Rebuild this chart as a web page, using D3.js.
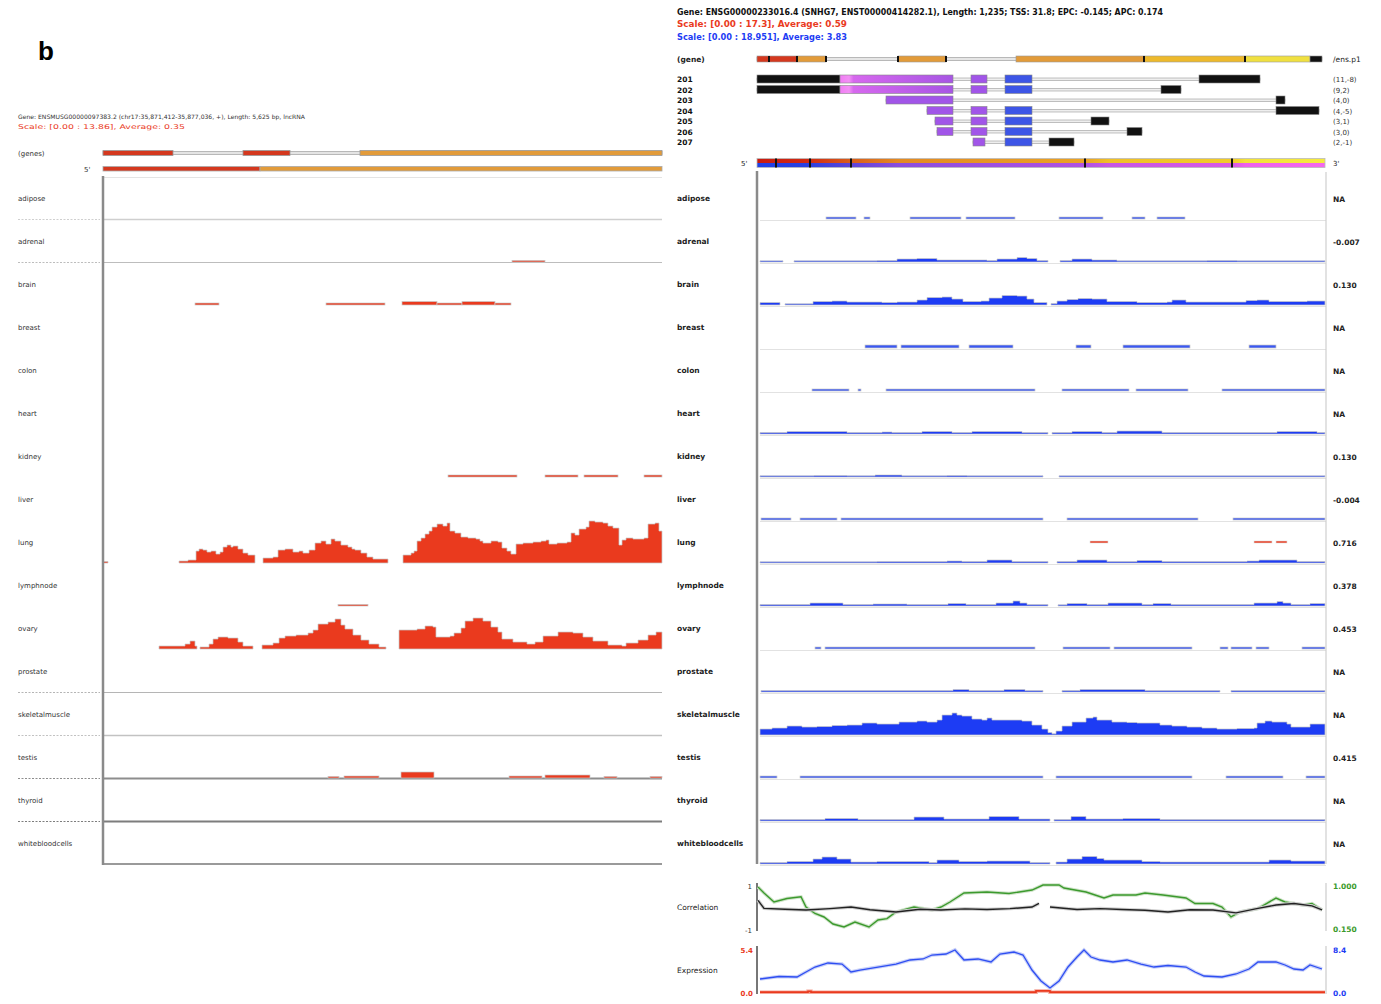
<!DOCTYPE html>
<html><head><meta charset="utf-8">
<script src="https://cdn.jsdelivr.net/npm/d3@7"></script>
<style>
body{margin:0;background:#fff;}
svg text{font-family:"DejaVu Sans",sans-serif;}
</style></head><body>
<svg id="chart" width="1381" height="1004"></svg>
<script>
// ---------- tracks ----------
const tissues = ["adipose","adrenal","brain","breast","colon","heart","kidney","liver","lung","lymphnode","ovary","prostate","skeletalmuscle","testis","thyroid","whitebloodcells"];
const tissueLabels = ["adipose","adrenal","brain","breast","colon","heart","kidney","liver","lung","lymphnode","ovary","prostate","skeletalmuscle","testis","thyroid","whitebloodcells"];

// ---------- left locus: bars [start, end, value], areas = segments of [pos, value] ----------
const L_adrenalBars = [[4090,4420,0.15]];
const L_brainBars = [[920,1160,0.2],[2230,2820,0.2],[2990,3340,0.35],[3340,3590,0.2],[3590,3920,0.35],[3920,4080,0.2]];
const L_kidneyBars = [[3450,4140,0.2],[4420,4750,0.2],[4810,5150,0.2],[5410,5590,0.2]];
const L_lymphBars = [[2350,2650,0.04]];
const L_testisBars = [[2250,2360,0.1],[2410,2760,0.2],[2980,3310,0.6],[4060,4390,0.2],[4420,4870,0.3],[5010,5140,0.1],[5470,5590,0.1]];
const L_lungAreas = [
  [[0,0.15],[50,0.15]],
  [[760,0.2],[850,0.3],[930,1.2],[960,1.4],[1000,1.3],[1040,1.1],[1080,1.2],[1130,0.9],[1170,1.1],[1200,1.6],[1240,1.8],[1280,1.6],[1300,1.7],[1350,1.4],[1400,1.0],[1450,0.8],[1520,0.8]],
  [[1600,0.5],[1700,0.6],[1750,1.3],[1820,1.4],[1900,1.1],[1960,1.2],[2000,1.0],[2060,1.3],[2120,2.0],[2180,2.2],[2230,1.9],[2280,2.4],[2320,2.2],[2380,1.8],[2450,1.6],[2490,1.4],[2520,1.3],[2580,1.0],[2640,0.6],[2700,0.4],[2850,0.4]],
  [[3000,0.8],[3080,1.0],[3110,1.2],[3140,2.2],[3180,2.5],[3220,2.9],[3260,3.2],[3290,3.6],[3340,3.9],[3400,3.7],[3440,4.0],[3470,3.2],[3520,3.0],[3580,2.6],[3650,2.5],[3730,2.4],[3770,2.2],[3800,2.0],[3880,2.2],[3950,2.1],[3990,1.5],[4040,1.2],[4080,0.9],[4130,1.9],[4200,2.0],[4300,2.1],[4380,2.2],[4430,2.3],[4460,1.9],[4540,2.0],[4640,2.1],[4680,3.0],[4720,2.8],[4760,3.4],[4830,3.6],[4860,4.2],[4920,4.1],[5000,4.0],[5050,3.7],[5100,3.5],[5160,1.8],[5190,2.3],[5230,2.5],[5300,2.4],[5410,2.5],[5450,3.9],[5520,4.0],[5560,3.2],[5590,3.2]]
];
const L_ovaryAreas = [
  [[560,0.3],[820,0.5],[870,0.8],[920,0.3],[940,0.3]],
  [[970,0.2],[1060,0.5],[1100,1.0],[1150,1.2],[1250,1.1],[1350,0.7],[1400,0.3],[1500,0.3]],
  [[1590,0.4],[1700,0.6],[1760,1.1],[1820,1.3],[1930,1.4],[2050,1.6],[2100,1.9],[2150,2.5],[2250,2.7],[2320,3.0],[2380,2.4],[2420,2.0],[2500,1.4],[2580,0.9],[2660,0.5],[2760,0.2],[2830,0.2]],
  [[2960,1.9],[3140,2.0],[3220,2.3],[3300,2.2],[3330,1.2],[3470,1.3],[3510,1.6],[3580,2.1],[3620,2.8],[3700,3.1],[3800,2.8],[3880,2.2],[3950,1.7],[3990,1.0],[4100,0.7],[4240,0.5],[4320,0.7],[4400,1.3],[4550,1.7],[4700,1.6],[4800,1.2],[4900,0.8],[5050,0.4],[5190,0.3],[5230,0.6],[5350,0.9],[5450,1.4],[5530,1.7],[5590,1.7]]
];

// ---------- right locus ----------
const R_adiposeBars = [[690,990,0.2],[1070,1130,0.2],[1530,2040,0.2],[2090,2580,0.2],[3020,3460,0.2],[3750,3880,0.2],[4000,4280,0.2]];
const R_adrenalAreas = [
  [[30,0.1],[260,0.1]],
  [[370,0.1],[1200,0.15],[1400,0.3],[1600,0.35],[1800,0.2],[2300,0.15],[2400,0.3],[2600,0.45],[2700,0.35],[2800,0.15],[2910,0.15]],
  [[3030,0.15],[3150,0.3],[3350,0.2],[3600,0.1],[4500,0.15],[4800,0.1],[5680,0.1]]
];
const R_brainAreas = [
  [[30,0.25],[230,0.25]],
  [[280,0.1],[560,0.35],[750,0.4],[900,0.3],[1250,0.25],[1400,0.3],[1600,0.5],[1700,0.75],[1850,0.8],[1950,0.6],[2060,0.35],[2240,0.4],[2320,0.7],[2450,0.95],[2600,0.9],[2700,0.6],[2770,0.25],[2900,0.25]],
  [[2940,0.15],[3000,0.4],[3100,0.55],[3210,0.65],[3350,0.6],[3500,0.35],[3800,0.25],[4100,0.3],[4150,0.5],[4290,0.3],[4780,0.3],[4890,0.45],[5000,0.5],[5120,0.35],[5500,0.4],[5680,0.4]]
];
const R_breastBars = [[1080,1400,0.3],[1440,2020,0.3],[2120,2560,0.3],[3190,3340,0.3],[3660,4330,0.3],[4920,5190,0.3]];
const R_colonBars = [[550,920,0.2],[1010,1040,0.2],[1290,2780,0.2],[3050,3720,0.2],[3790,4310,0.2],[4650,5680,0.2]];
const R_heartAreas = [
  [[30,0.15],[300,0.25],[900,0.15],[1250,0.2],[1350,0.15],[1650,0.25],[1950,0.15],[2150,0.25],[2650,0.15],[2910,0.15]],
  [[2950,0.15],[3150,0.25],[3450,0.15],[3600,0.3],[4050,0.15],[5200,0.25],[5600,0.15],[5680,0.15]]
];
const R_kidneyAreas = [
  [[30,0.1],[570,0.15],[900,0.1],[1180,0.2],[1450,0.1],[1900,0.15],[2100,0.1],[2860,0.1]],
  [[3020,0.1],[5680,0.1]]
];
const R_liverBars = [[40,340,0.2],[430,800,0.2],[840,2860,0.2],[3100,4410,0.2],[4760,5680,0.2]];
const R_lungAreas = [
  [[30,0.1],[1200,0.15],[1900,0.2],[2050,0.15],[2300,0.3],[2550,0.15],[2910,0.1]],
  [[3000,0.15],[3200,0.3],[3500,0.15],[3800,0.25],[4050,0.15],[4900,0.2],[5020,0.3],[5400,0.15],[5680,0.15]]
];
const R_lungOtherMarks = [[3330,3510,2.1],[4970,5150,2.1],[5190,5300,2.1]];
const R_lymphAreas = [
  [[30,0.15],[530,0.3],[860,0.15],[1160,0.2],[1500,0.15],[1910,0.25],[2090,0.15],[2390,0.3],[2560,0.5],[2630,0.3],[2700,0.15],[2910,0.15]],
  [[3010,0.1],[3100,0.25],[3300,0.15],[3510,0.3],[3850,0.15],[3960,0.25],[4140,0.15],[4970,0.3],[5200,0.45],[5260,0.3],[5340,0.15],[5530,0.25],[5680,0.25]]
];
const R_ovaryBars = [[580,640,0.2],[680,2780,0.2],[3060,3530,0.2],[3570,4350,0.2],[4630,4710,0.2],[4740,4950,0.2],[4990,5120,0.2],[5450,5680,0.2]];
const R_prostateAreas = [
  [[40,0.15],[1960,0.25],[2120,0.15],[2470,0.25],[2680,0.15],[2860,0.15]],
  [[3050,0.15],[3230,0.25],[3880,0.15],[4630,0.15]],
  [[4740,0.15],[5680,0.15]]
];
const R_skeletalAreas = [
  [[30,0.6],[150,0.7],[300,0.9],[450,0.8],[600,0.85],[750,0.95],[900,1.0],[1050,1.2],[1200,1.1],[1420,1.3],[1600,1.4],[1700,1.3],[1800,1.5],[1850,2.0],[1950,2.2],[2000,2.0],[2050,1.9],[2150,1.6],[2250,1.5],[2300,1.7],[2350,1.5],[2500,1.5],[2650,1.4],[2750,1.0],[2850,0.6],[2910,0.25],[2950,0.05],[2990,0.4],[3050,0.9],[3150,1.3],[3290,1.7],[3360,1.8],[3400,1.5],[3550,1.3],[3700,1.25],[3800,1.2],[4030,1.0],[4150,0.9],[4300,0.8],[4450,0.7],[4600,0.6],[4800,0.65],[4970,0.7],[5000,1.2],[5080,1.4],[5150,1.3],[5300,1.1],[5340,0.8],[5530,1.1],[5680,1.1]]
];
const R_testisBars = [[30,200,0.2],[430,2860,0.2],[2990,4350,0.2],[4690,5260,0.2],[5490,5680,0.2]];
const R_thyroidAreas = [
  [[30,0.15],[680,0.25],[1010,0.15],[1570,0.4],[1870,0.2],[2320,0.45],[2620,0.2],[2930,0.2]],
  [[2970,0.15],[3140,0.45],[3290,0.2],[3660,0.25],[4030,0.15],[5680,0.15]]
];
const R_wbcAreas = [
  [[30,0.15],[300,0.25],[560,0.5],[650,0.7],[800,0.5],[940,0.2],[1200,0.25],[1720,0.15],[1800,0.4],[2020,0.25],[2300,0.3],[2730,0.15],[2930,0.1]],
  [[2990,0.2],[3100,0.5],[3250,0.75],[3400,0.55],[3470,0.4],[3850,0.25],[4030,0.2],[5120,0.4],[5340,0.3],[5680,0.3]]
];
const R_values = ["NA","-0.007","0.130","NA","NA","NA","0.130","-0.004","0.716","0.378","0.453","NA","NA","0.415","NA","NA"];

// ---------- gene models ----------
const L_geneExons = [[0,700,"utr"],[1400,1870,"utr"],[2570,5590,"cds"]];
const L_geneSpan = [0,5590];
const L_strandBar = [[0,1570,"utr"],[1570,5590,"cds"]];
const R_geneExons = [[0,400,"utr"],[400,690,"cds"],[1410,1890,"cds"],[2590,3870,"cds"],[3870,4880,"mid"],[4880,5530,"end"],[5530,5650,"stop"]];
const R_geneTicks = [120,400,690,1410,1890,3870,4880];
const R_geneSpan = [0,5650];
const R_transcripts = [
  {id:"201", tag:"(11,-8)", exons:[[0,830,"stop"],[830,1960,"alt"],[2140,2300,"core"],[2480,2750,"core2"],[4420,5030,"stop"]]},
  {id:"202", tag:"(9,2)", exons:[[0,830,"stop"],[830,1960,"alt"],[2140,2300,"core"],[2480,2750,"core2"],[4040,4240,"stop"]]},
  {id:"203", tag:"(4,0)", exons:[[1290,1960,"core"],[5190,5280,"stop"]]},
  {id:"204", tag:"(4,-5)", exons:[[1700,1960,"core"],[2140,2300,"core"],[2480,2750,"core2"],[5190,5620,"stop"]]},
  {id:"205", tag:"(3,1)", exons:[[1780,1960,"core"],[2140,2300,"core"],[2480,2750,"core2"],[3340,3520,"stop"]]},
  {id:"206", tag:"(3,0)", exons:[[1800,1960,"core"],[2140,2300,"core"],[2480,2750,"core2"],[3700,3850,"stop"]]},
  {id:"207", tag:"(2,-1)", exons:[[2160,2280,"core"],[2480,2750,"core2"],[2920,3170,"stop"]]}
];
const R_strandTicks = [190,530,940,3280,4750];

// ---------- correlation / expression profiles ----------
const corrGreen = [[10,0.962],[70,0.849],[170,0.679],[300,0.745],[440,0.777],[490,0.584],[580,0.462],[670,0.396],[760,0.263],[870,0.207],[980,0.301],[1120,0.207],[1210,0.339],[1300,0.365],[1390,0.49],[1570,0.584],[1750,0.528],[1840,0.584],[1930,0.679],[2070,0.849],[2300,0.868],[2520,0.839],[2750,0.905],[2860,1.0],[3020,1.0],[3070,0.943],[3290,0.868],[3470,0.754],[3560,0.811],[3790,0.811],[3880,0.849],[4060,0.811],[4290,0.754],[4380,0.65],[4560,0.65],[4650,0.584],[4740,0.396],[4830,0.49],[5010,0.556],[5190,0.754],[5280,0.679],[5370,0.65],[5460,0.622],[5550,0.65],[5650,0.528]];
const corrBlack = [[10,0.32],[70,-0.04],[280,-0.08],[490,-0.11],[730,-0.05],[940,0.02],[1130,-0.1],[1390,-0.2],[1630,-0.08],[1840,-0.11],[2080,-0.06],[2300,-0.09],[2530,-0.05],[2750,0.02],[2820,0.18],[2850,null],[2930,0.02],[3200,-0.09],[3430,-0.05],[3650,-0.09],[3880,-0.12],[4110,-0.2],[4330,-0.1],[4560,-0.11],[4790,-0.24],[5010,-0.04],[5190,0.11],[5370,0.18],[5550,0.07],[5650,-0.11]];
const exprBlue = [[30,2.61],[220,3.08],[400,2.99],[490,3.92],[580,4.85],[710,5.6],[850,5.41],[940,3.92],[1030,4.29],[1210,4.85],[1390,5.41],[1530,6.16],[1660,6.35],[1750,7.09],[1890,7.28],[1980,8.03],[2070,6.16],[2210,6.35],[2340,5.79],[2430,7.28],[2570,7.65],[2660,7.09],[2750,4.29],[2840,2.24],[2930,0.93],[3020,2.24],[3110,4.85],[3200,6.72],[3270,8.03],[3340,6.72],[3430,6.16],[3560,5.79],[3700,6.16],[3840,5.41],[3970,4.85],[4110,5.13],[4290,4.85],[4380,3.92],[4470,3.17],[4650,2.99],[4790,3.55],[4920,4.48],[5010,5.79],[5190,5.79],[5280,5.23],[5370,4.48],[5460,4.29],[5530,5.23],[5650,4.48]];
const exprRed = [[30,0.1],[510,0.2],[540,0.1],[2790,0.25],[2930,0.1],[5680,0.1]];
const corrTicksL = ["1","-1"], corrTicksR = ["1.000","0.150"];
const exprTicksL = ["5.4","0.0"], exprTicksR = ["8.4","0.0"];

// ---------- build ----------
const svg = d3.select("#chart");
const defs = svg.append("defs");
function gradient(id, stops){
  const g = defs.append("linearGradient").attr("id", id).attr("x1","0%").attr("x2","100%").attr("y1","0%").attr("y2","0%");
  stops.forEach(([o,c]) => g.append("stop").attr("offset", o).attr("stop-color", c));
}
gradient("warm", [["0%","#c81a10"],["9%","#d22a12"],["16%","#d85a1a"],["25%","#e38a22"],["58%","#eaa324"],["62%","#efc028"],["84%","#f0cc2a"],["86%","#f2e23a"],["100%","#f4ea40"]]);
gradient("cool", [["0%","#1f3fe6"],["9%","#2a40e0"],["16%","#5a44d8"],["25%","#8a4ede"],["58%","#b052e2"],["62%","#c656e4"],["84%","#d85ae6"],["86%","#ee60ec"],["100%","#f468ee"]]);
gradient("altex", [["0%","#f07cf4"],["8%","#f290f4"],["12%","#d668ee"],["100%","#a756e4"]]);

const redC = "#ea3a1e", blueC = "#1d3cf4";
const exonColor = d3.scaleOrdinal()
  .domain(["utr","cds","mid","end","stop","alt","core","core2"])
  .range(["#d4381e","#e29b3a","#edb92c","#f0e040","#111","url(#altex)","#a155e8","#3d55e6"]);

const xL = d3.scaleLinear().domain([0,5590]).range([103,662]);
const xR = d3.scaleLinear().domain([0,5680]).range([757,1325]);
const base = d3.scaleLinear().domain([0,15]).range([219,864]);
const hL = d3.scaleLinear().domain([0,4.3]).range([0,43]);
const hR = d3.scaleLinear().domain([0,4.3]).range([0,43]);

// panel letter
svg.append("text").attr("x",38).attr("y",60).text("b")
  .style("font-family","'Liberation Sans',Arial,sans-serif").style("font-weight","bold").style("font-size","26px");

// headers
function header(x, y, w, txt, color, size, weight){
  svg.append("text").attr("x",x).attr("y",y).attr("fill",color)
    .attr("textLength",w).attr("lengthAdjust","spacingAndGlyphs")
    .style("font-size",size+"px").style("font-weight",weight||"normal").text(txt);
}
header(18,119,287,"Gene: ENSMUSG00000097383.2 (chr17:35,871,412-35,877,036, +), Length: 5,625 bp, lncRNA","#333",6);
header(18,129,167,"Scale: [0.00 : 13.86], Average: 0.35",redC,6.5);
header(677,15,486,"Gene: ENSG00000233016.4 (SNHG7, ENST00000414282.1), Length: 1,235; TSS: 31.8; EPC: -0.145; APC: 0.174","#111",8,"bold");
header(677,27,170,"Scale: [0.00 : 17.3], Average: 0.59",redC,8,"bold");
header(677,40,170,"Scale: [0.00 : 18.951], Average: 3.83",blueC,8,"bold");

// ----- left gene model -----
const gL = svg.append("g");
gL.append("text").attr("x",18).attr("y",156).text("(genes)").style("font-size","7px").attr("fill","#333");
gL.append("rect").attr("x",xL(L_geneSpan[0])).attr("width",xL(L_geneSpan[1])-xL(L_geneSpan[0])).attr("y",151.5).attr("height",3)
  .attr("fill","#e4e4e4").attr("stroke","#aaa").attr("stroke-width",0.8);
gL.selectAll(".ex").data(L_geneExons).join("rect")
  .attr("x",d=>xL(d[0])).attr("width",d=>xL(d[1])-xL(d[0])).attr("y",150.5).attr("height",5)
  .attr("fill",d=>exonColor(d[2])).attr("stroke","#999").attr("stroke-width",0.8);
gL.append("text").attr("x",84).attr("y",172).text("5'").style("font-size","7px").attr("fill","#333");
gL.selectAll(".sb").data(L_strandBar).join("rect")
  .attr("x",d=>xL(d[0])).attr("width",d=>xL(d[1])-xL(d[0])).attr("y",166.5).attr("height",4.5)
  .attr("fill",d=>exonColor(d[2])).attr("stroke","#aaa").attr("stroke-width",0.8);

// ----- right gene model -----
const gR = svg.append("g");
gR.append("text").attr("x",677).attr("y",62).text("(gene)").style("font-size","7.5px").style("font-weight","bold").attr("fill","#222");
gR.append("text").attr("x",1333).attr("y",62).text("/ens.p1").style("font-size","7.5px").attr("fill","#222");
gR.append("rect").attr("x",xR(R_geneSpan[0])).attr("width",xR(R_geneSpan[1])-xR(R_geneSpan[0])).attr("y",57.5).attr("height",3)
  .attr("fill","#e6e6e6").attr("stroke","#aaa").attr("stroke-width",0.8);
gR.selectAll(".ex").data(R_geneExons).join("rect")
  .attr("x",d=>xR(d[0])).attr("width",d=>xR(d[1])-xR(d[0])).attr("y",56).attr("height",6)
  .attr("fill",d=>exonColor(d[2])).attr("stroke","#999").attr("stroke-width",0.6);
gR.selectAll(".tk").data(R_geneTicks).join("rect")
  .attr("x",d=>xR(d)-1).attr("width",2).attr("y",56).attr("height",6).attr("fill","#111");

const yTx = d3.scalePoint().domain(R_transcripts.map(d=>d.id)).range([79,142]);
R_transcripts.forEach(t => {
  const y = yTx(t.id);
  const s = d3.min(t.exons,d=>d[0]), e = d3.max(t.exons,d=>d[1]);
  gR.append("text").attr("x",677).attr("y",y+3).text(t.id).style("font-size","7.5px").style("font-weight","bold").attr("fill","#111");
  gR.append("text").attr("x",1333).attr("y",y+3).text(t.tag).style("font-size","7px").attr("fill","#333");
  gR.append("rect").attr("x",xR(s)).attr("width",xR(e)-xR(s)).attr("y",y-1).attr("height",2.5)
    .attr("fill","#eee").attr("stroke","#999").attr("stroke-width",0.6);
  gR.selectAll(null).data(t.exons).join("rect")
    .attr("x",d=>xR(d[0])).attr("width",d=>xR(d[1])-xR(d[0])).attr("y",y-4).attr("height",8)
    .attr("fill",d=>exonColor(d[2])).attr("stroke","#888").attr("stroke-width",0.6);
});

// strand bar (5' -> 3')
gR.append("text").attr("x",741).attr("y",166).text("5'").style("font-size","7px").attr("fill","#222");
gR.append("text").attr("x",1333).attr("y",166).text("3'").style("font-size","7px").attr("fill","#222");
gR.append("rect").attr("x",xR(0)).attr("width",xR(5680)-xR(0)).attr("y",158.5).attr("height",4.5).attr("fill","url(#warm)");
gR.append("rect").attr("x",xR(0)).attr("width",xR(5680)-xR(0)).attr("y",163).attr("height",4.5).attr("fill","url(#cool)");
gR.append("rect").attr("x",xR(0)).attr("width",xR(5680)-xR(0)).attr("y",158.5).attr("height",9).attr("fill","none").attr("stroke","#bbb").attr("stroke-width",0.8);
gR.selectAll(".st").data(R_strandTicks).join("rect")
  .attr("x",d=>xR(d)-1).attr("width",2).attr("y",158.5).attr("height",9).attr("fill","#111");

// ----- track drawing helpers -----
function drawAreas(g, x, h, y0, segs, color){
  const area = d3.area().curve(d3.curveStepAfter).x(d=>x(d[0])).y0(y0).y1(d=>y0-Math.max(h(d[1]),1.2));
  g.selectAll(null).data(segs).join("path").attr("d",area)
    .attr("fill",color).attr("stroke","#c9c9c9").attr("stroke-width",0.8).attr("stroke-opacity",0.9);
}
function drawBars(g, x, h, y0, bars, color){
  g.selectAll(null).data(bars).join("rect")
    .attr("x",d=>x(d[0])).attr("width",d=>Math.max(1,x(d[1])-x(d[0])))
    .attr("y",d=>y0-Math.max(h(d[2]),1.6)).attr("height",d=>Math.max(h(d[2]),1.6))
    .attr("fill",color).attr("stroke","#c9c9c9").attr("stroke-width",0.7);
}
function drawMarks(g, x, h, y0, bars, color){
  g.selectAll(null).data(bars).join("rect")
    .attr("x",d=>x(d[0])).attr("width",d=>x(d[1])-x(d[0]))
    .attr("y",d=>y0-h(d[2])-1).attr("height",2).attr("fill",color).attr("stroke","#ddd").attr("stroke-width",0.6);
}

// ----- left panel -----
const leftBars = {adrenal:L_adrenalBars, brain:L_brainBars, kidney:L_kidneyBars, lymphnode:L_lymphBars, testis:L_testisBars};
const leftAreas = {lung:L_lungAreas, ovary:L_ovaryAreas};
const leftRule = {adipose:["#cfcfcf",1.5], adrenal:["#bdbdbd",1.2], prostate:["#b5b5b5",1.2], skeletalmuscle:["#c2c2c2",1.5], testis:["#8d8d8d",2], thyroid:["#7d7d7d",2]};
const pL = svg.append("g");
pL.append("line").attr("x1",103).attr("x2",662).attr("y1",177.5).attr("y2",177.5).attr("stroke","#e4e4e4");
tissues.forEach((t,i) => {
  const y0 = base(i);
  pL.append("text").attr("x",18).attr("y",y0-18).text(tissueLabels[i]).style("font-size","7px").attr("fill","#333");
  if (leftRule[t]) {
    pL.append("line").attr("x1",18).attr("x2",100).attr("y1",y0+0.5).attr("y2",y0+0.5)
      .attr("stroke",leftRule[t][0]).attr("stroke-width",1).attr("stroke-dasharray","2,1.5");
    pL.append("line").attr("x1",103).attr("x2",662).attr("y1",y0+0.5).attr("y2",y0+0.5)
      .attr("stroke",leftRule[t][0]).attr("stroke-width",leftRule[t][1]);
  }
  if (leftAreas[t]) drawAreas(pL, xL, hL, y0, leftAreas[t], redC);
  if (leftBars[t]) drawBars(pL, xL, hL, y0, leftBars[t], redC);
});
pL.append("line").attr("x1",103).attr("x2",662).attr("y1",864).attr("y2",864).attr("stroke","#9a9a9a").attr("stroke-width",2);
pL.append("line").attr("x1",103).attr("x2",103).attr("y1",176).attr("y2",865).attr("stroke","#8a8a8a").attr("stroke-width",2.5);

// ----- right panel -----
const rightBars = {adipose:R_adiposeBars, breast:R_breastBars, colon:R_colonBars, liver:R_liverBars, ovary:R_ovaryBars, testis:R_testisBars};
const rightAreas = {adrenal:R_adrenalAreas, brain:R_brainAreas, heart:R_heartAreas, kidney:R_kidneyAreas, lung:R_lungAreas, lymphnode:R_lymphAreas, prostate:R_prostateAreas, skeletalmuscle:R_skeletalAreas, thyroid:R_thyroidAreas, whitebloodcells:R_wbcAreas};
const pR = svg.append("g");
tissues.forEach((t,i) => {
  const y0 = base(i);
  pR.append("text").attr("x",677).attr("y",y0-18).text(tissueLabels[i]).style("font-size","7.5px").style("font-weight","bold").attr("fill","#222");
  pR.append("text").attr("x",1333).attr("y",y0-17).text(R_values[i]).style("font-size","7.5px").style("font-weight","bold").attr("fill","#222");
  pR.append("line").attr("x1",760).attr("x2",1326).attr("y1",y0+1.5).attr("y2",y0+1.5).attr("stroke","#e2e2e2").attr("stroke-width",1);
  if (rightAreas[t]) drawAreas(pR, xR, hR, y0, rightAreas[t], blueC);
  if (rightBars[t]) drawBars(pR, xR, hR, y0, rightBars[t], "#3b58f2");
});
drawMarks(pR, xR, hR, base(8), R_lungOtherMarks, redC);
pR.append("line").attr("x1",1326).attr("x2",1326).attr("y1",172).attr("y2",864).attr("stroke","#cfcfcf").attr("stroke-width",1.2);
pR.append("line").attr("x1",757).attr("x2",757).attr("y1",171).attr("y2",864).attr("stroke","#8a8a8a").attr("stroke-width",2.5);

// ----- correlation panel -----
const pC = svg.append("g");
const yCb = d3.scaleLinear().domain([-1,1]).range([930,885]);
const yCg = d3.scaleLinear().domain([0.15,1.0]).range([930,885]);
pC.append("text").attr("x",677).attr("y",910).text("Correlation").style("font-size","7.5px").attr("fill","#222");
pC.append("line").attr("x1",757).attr("x2",757).attr("y1",883).attr("y2",931).attr("stroke","#777").attr("stroke-width",2);
pC.append("line").attr("x1",1326).attr("x2",1326).attr("y1",883).attr("y2",931).attr("stroke","#ccc").attr("stroke-width",1.2);
pC.selectAll(".tl").data(corrTicksL).join("text").attr("x",752).attr("y",(d,i)=>i?933:889).attr("text-anchor","end")
  .text(d=>d).style("font-size","7px").attr("fill","#333");
pC.selectAll(".tr").data(corrTicksR).join("text").attr("x",1333).attr("y",(d,i)=>i?932:889)
  .text(d=>d).style("font-size","7.5px").style("font-weight","bold").attr("fill","#3a9a2a");
const lineG = d3.line().x(d=>xR(d[0])).y(d=>yCg(d[1]));
const lineB = d3.line().defined(d=>d[1]!==null).x(d=>xR(d[0])).y(d=>yCb(d[1]));
pC.append("path").attr("d",lineG(corrGreen)).attr("fill","none").attr("stroke","#cfe3c9").attr("stroke-width",3.5);
pC.append("path").attr("d",lineG(corrGreen)).attr("fill","none").attr("stroke","#3c9a2e").attr("stroke-width",1.4);
pC.append("path").attr("d",lineB(corrBlack)).attr("fill","none").attr("stroke","#cfcfcf").attr("stroke-width",3.5);
pC.append("path").attr("d",lineB(corrBlack)).attr("fill","none").attr("stroke","#222").attr("stroke-width",1.4);

// ----- expression panel -----
const pE = svg.append("g");
const yEb = d3.scaleLinear().domain([0,8.4]).range([993,948]);
const yEr = d3.scaleLinear().domain([0,5.4]).range([993,948]);
pE.append("text").attr("x",677).attr("y",973).text("Expression").style("font-size","7.5px").attr("fill","#222");
pE.append("line").attr("x1",757).attr("x2",757).attr("y1",946).attr("y2",994).attr("stroke","#777").attr("stroke-width",2);
pE.append("line").attr("x1",1326).attr("x2",1326).attr("y1",946).attr("y2",994).attr("stroke","#ccc").attr("stroke-width",1.2);
pE.selectAll(".tl").data(exprTicksL).join("text").attr("x",753).attr("y",(d,i)=>i?996:953).attr("text-anchor","end")
  .text(d=>d).style("font-size","7px").style("font-weight","bold").attr("fill",redC);
pE.selectAll(".tr").data(exprTicksR).join("text").attr("x",1333).attr("y",(d,i)=>i?996:953)
  .text(d=>d).style("font-size","7.5px").style("font-weight","bold").attr("fill",blueC);
const lineEb = d3.line().x(d=>xR(d[0])).y(d=>yEb(d[1]));
const lineEr = d3.line().curve(d3.curveStepAfter).x(d=>xR(d[0])).y(d=>yEr(d[1]));
pE.append("path").attr("d",lineEr(exprRed)).attr("fill","none").attr("stroke","#f4a79a").attr("stroke-width",3.5);
pE.append("path").attr("d",lineEr(exprRed)).attr("fill","none").attr("stroke",redC).attr("stroke-width",1.6);
pE.append("path").attr("d",lineEb(exprBlue)).attr("fill","none").attr("stroke","#c8d0f8").attr("stroke-width",3.5);
pE.append("path").attr("d",lineEb(exprBlue)).attr("fill","none").attr("stroke","#2e4ef2").attr("stroke-width",1.3);
</script>
</body></html>
